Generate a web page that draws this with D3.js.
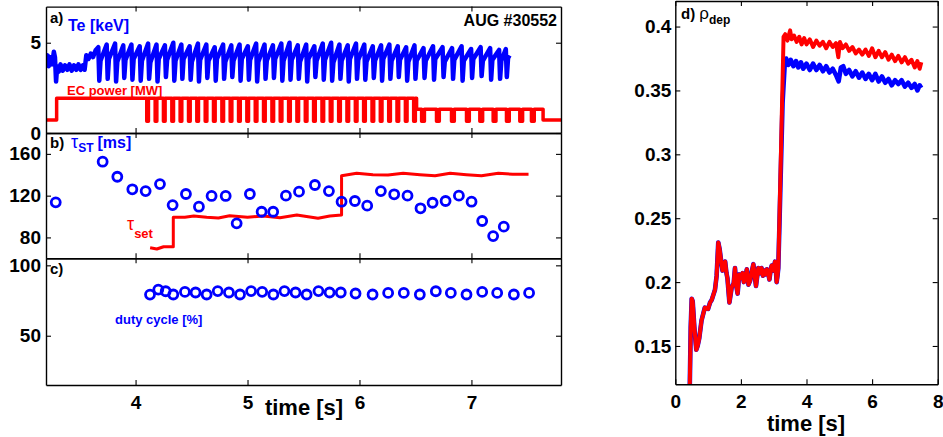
<!DOCTYPE html>
<html>
<head>
<meta charset="utf-8">
<script src="https://cdn.jsdelivr.net/npm/d3@7"></script>
<style>
  body { margin: 0; background: #fff; }
  text { font-family: "Liberation Sans", Arial, sans-serif; font-weight: bold; }
  .axis text { font-size: 19px; fill: #000; }
  .axis path.domain { stroke: #000; stroke-width: 1.4; }
  .axis line { stroke: #000; stroke-width: 1.1; }
</style>
</head>
<body>
<script>
// ---- a) Te trace: a short noisy start, then one sawtooth crash per cycle
let tePreT = [3.205, 3.215, 3.225, 3.24, 3.255, 3.27, 3.28, 3.29, 3.30, 3.315, 3.33, 3.35, 3.37, 3.39, 3.41, 3.43, 3.45, 3.47, 3.49, 3.51, 3.53, 3.545, 3.56, 3.58, 3.60, 3.62, 3.645];
let tePreV = [3.9, 4.3, 3.7, 4.2, 3.8, 4.5, 4.2, 2.85, 3.7, 3.4, 3.8, 3.45, 3.75, 3.5, 3.8, 3.45, 3.75, 3.5, 3.8, 3.5, 3.75, 3.5, 4.3, 4.1, 4.4, 4.2, 4.6];
let teCrash = [3.670, 3.745, 3.820, 3.893, 3.966, 4.040, 4.115, 4.190, 4.265, 4.340, 4.412, 4.486, 4.560, 4.635, 4.710, 4.785, 4.858, 4.932, 5.006, 5.080, 5.155, 5.230, 5.305, 5.378, 5.452, 5.527, 5.600, 5.675, 5.750, 5.824, 5.898, 5.972, 6.046, 6.122, 6.196, 6.270, 6.345, 6.420, 6.494, 6.575, 6.660, 6.745, 6.830, 6.915, 7.000, 7.085, 7.170, 7.250, 7.310];
let tePeak = [4.75, 4.9, 4.95, 4.85, 4.9, 4.8, 4.95, 4.9, 4.85, 5.0, 4.9, 4.8, 4.95, 4.9, 4.75, 4.9, 4.85, 4.9, 4.8, 4.95, 4.9, 4.85, 4.95, 5.0, 4.85, 4.9, 4.8, 4.95, 5.0, 4.9, 4.85, 4.95, 4.9, 4.8, 4.85, 4.9, 4.8, 4.75, 4.85, 4.7, 4.8, 4.75, 4.7, 4.8, 4.65, 4.75, 4.7, 4.6, 4.65];
let teDip = [2.9, 3.0, 2.85, 3.05, 2.95, 2.9, 3.0, 2.85, 3.1, 2.9, 3.0, 2.95, 2.85, 3.05, 2.9, 3.0, 3.1, 2.9, 2.95, 2.85, 3.0, 3.05, 2.9, 2.95, 3.0, 2.85, 3.1, 2.95, 2.9, 3.0, 2.85, 3.0, 2.95, 3.05, 2.9, 3.0, 3.1, 2.9, 3.0, 3.05, 2.95, 3.1, 3.0, 2.9, 3.05, 3.15, 2.95, 3.0, 3.1];
let teRec = [4.0, 4.1, 3.95, 4.05, 4.1, 4.0, 3.9, 4.1, 4.05, 4.0, 4.1, 3.95, 4.05, 4.0, 4.1, 3.95, 4.0, 4.1, 4.05, 3.95, 4.0, 4.1, 4.0, 4.05, 3.95, 4.1, 4.0, 4.05, 3.9, 4.0, 4.1, 4.05, 3.95, 4.0, 4.1, 4.0, 4.05, 3.95, 4.0, 4.0, 4.1, 3.95, 4.05, 4.0, 4.1, 4.0, 4.05, 4.0, 4.15];
let teEnd = [7.34, 4.3];

// ---- a) EC power [MW]
let ecPreT = [3.2, 3.295, 3.295, 4.10];
let ecPreV = [0.72, 0.72, 1.92, 1.92];
let ecOff1 = [4.100, 4.175, 4.249, 4.324, 4.398, 4.473, 4.547, 4.622, 4.696, 4.771, 4.845, 4.920, 4.994, 5.069, 5.143, 5.218, 5.292, 5.367, 5.441, 5.516, 5.590, 5.665, 5.739, 5.814, 5.888, 5.963, 6.037, 6.112, 6.186, 6.261, 6.335, 6.410, 6.484];
let ecOff2 = [6.555, 6.688, 6.822, 6.956, 7.075, 7.194, 7.313, 7.432, 7.536];
let ecHigh1 = 1.92, ecHigh2 = 1.31, ecLow = 0.65, ecBase = 0.72;
let ecOffLen1 = 0.015, ecOffLen2 = 0.025;
let ecStep = 6.51, ecStop = 7.64, ecLast = 7.8;

// ---- b) tau_ST [ms] and tau_set
let tauT = [3.287, 3.706, 3.837, 3.971, 4.090, 4.218, 4.331, 4.450, 4.566, 4.679, 4.805, 4.903, 5.021, 5.126, 5.229, 5.343, 5.460, 5.602, 5.727, 5.840, 5.959, 6.069, 6.191, 6.310, 6.429, 6.545, 6.653, 6.769, 6.888, 7.001, 7.096, 7.194, 7.289];
let tauV = [113.6, 152.5, 138.1, 126.1, 124.4, 131.1, 111.0, 121.6, 109.4, 119.7, 119.7, 93.5, 121.6, 104.6, 104.6, 120.0, 123.8, 130.2, 124.4, 114.2, 114.9, 110.4, 124.4, 121.3, 120.0, 107.9, 113.2, 114.9, 120.0, 114.2, 95.7, 81.3, 90.3];
let tsetT = [4.13, 4.19, 4.25, 4.337, 4.337, 4.44, 4.52, 4.635, 4.74, 4.84, 5.0, 5.14, 5.29, 5.44, 5.63, 5.735, 5.84, 5.84, 5.975, 6.12, 6.255, 6.39, 6.54, 6.675, 6.81, 6.955, 7.09, 7.24, 7.37, 7.51];
let tsetV = [70.1, 68.9, 71.1, 71.1, 99.3, 99.3, 100.5, 99.3, 98.6, 100.8, 99.3, 100.5, 98.8, 101.5, 98.3, 100.5, 101.5, 139.1, 141.4, 140.1, 139.8, 141.4, 140.1, 139.1, 141.4, 140.1, 139.1, 141.4, 140.5, 140.5];

// ---- c) duty cycle [%]
let dutyT = [4.129, 4.203, 4.269, 4.337, 4.441, 4.536, 4.635, 4.734, 4.834, 4.933, 5.032, 5.131, 5.231, 5.330, 5.429, 5.528, 5.634, 5.733, 5.833, 5.965, 6.117, 6.256, 6.396, 6.539, 6.682, 6.816, 6.956, 7.096, 7.230, 7.379, 7.515];
let dutyV = [79.2, 82.8, 81.6, 79.3, 81.1, 80.7, 79.3, 81.7, 80.7, 79.3, 81.7, 81.2, 79.3, 81.7, 80.7, 79.3, 81.7, 80.7, 80.7, 80.0, 79.3, 80.4, 80.4, 79.3, 81.6, 80.4, 79.3, 81.1, 80.4, 79.3, 80.4];

// ---- d) rho_dep, common start then two branches after the jump
let rhoEarlyT = [0.43, 0.47, 0.50, 0.53, 0.58, 0.64, 0.68, 0.73, 0.80, 0.90, 1.00, 1.06, 1.11, 1.16, 1.21, 1.26, 1.31, 1.35, 1.40, 1.44, 1.48, 1.52, 1.56, 1.59, 1.65, 1.72, 1.78, 1.82, 1.86, 1.90, 1.95, 2.00, 2.05, 2.09, 2.14, 2.18, 2.23, 2.28, 2.33, 2.38, 2.42, 2.46, 2.50, 2.53, 2.58, 2.63, 2.67, 2.71, 2.75, 2.79, 2.83, 2.87, 2.91, 2.94, 2.99, 3.04, 3.07, 3.09, 3.12, 3.14];
let rhoEarlyV = [0.10, 0.165, 0.187, 0.185, 0.165, 0.147, 0.150, 0.156, 0.170, 0.180, 0.179, 0.184, 0.186, 0.190, 0.194, 0.205, 0.231, 0.226, 0.216, 0.209, 0.214, 0.216, 0.207, 0.203, 0.184, 0.196, 0.199, 0.211, 0.197, 0.191, 0.206, 0.203, 0.207, 0.200, 0.204, 0.210, 0.198, 0.201, 0.208, 0.214, 0.205, 0.197, 0.205, 0.211, 0.207, 0.211, 0.205, 0.209, 0.206, 0.210, 0.207, 0.202, 0.210, 0.213, 0.209, 0.216, 0.208, 0.200, 0.206, 0.211];
let rhoRedT = [3.22, 3.30, 3.35, 3.42, 3.5, 3.55, 3.62, 3.7, 3.78, 3.85, 3.93, 4.0, 4.1, 4.2, 4.3, 4.4, 4.5, 4.6, 4.7, 4.8, 4.9, 4.97, 5.02, 5.1, 5.2, 5.3, 5.4, 5.5, 5.6, 5.7, 5.8, 5.9, 6.0, 6.1, 6.2, 6.3, 6.4, 6.5, 6.6, 6.7, 6.8, 6.9, 7.0, 7.1, 7.2, 7.3, 7.38, 7.45, 7.5];
let rhoRedV = [0.30, 0.392, 0.394, 0.389, 0.397, 0.390, 0.393, 0.388, 0.392, 0.386, 0.391, 0.386, 0.390, 0.384, 0.389, 0.385, 0.388, 0.383, 0.388, 0.384, 0.387, 0.376, 0.388, 0.383, 0.386, 0.381, 0.384, 0.379, 0.382, 0.378, 0.382, 0.377, 0.383, 0.376, 0.381, 0.376, 0.380, 0.374, 0.378, 0.373, 0.377, 0.372, 0.376, 0.371, 0.374, 0.368, 0.373, 0.367, 0.372];
let rhoBlueT = [3.18, 3.27, 3.34, 3.38, 3.45, 3.52, 3.6, 3.68, 3.75, 3.83, 3.9, 4.0, 4.1, 4.2, 4.3, 4.4, 4.5, 4.6, 4.7, 4.8, 4.9, 4.98, 5.05, 5.12, 5.2, 5.3, 5.4, 5.5, 5.6, 5.7, 5.8, 5.9, 6.0, 6.1, 6.2, 6.3, 6.4, 6.5, 6.6, 6.7, 6.8, 6.9, 7.0, 7.1, 7.2, 7.3, 7.38, 7.45, 7.5];
let rhoBlueV = [0.25, 0.34, 0.372, 0.375, 0.370, 0.374, 0.369, 0.373, 0.368, 0.372, 0.367, 0.371, 0.366, 0.371, 0.366, 0.370, 0.365, 0.369, 0.364, 0.367, 0.362, 0.357, 0.368, 0.369, 0.363, 0.366, 0.361, 0.365, 0.360, 0.364, 0.359, 0.363, 0.358, 0.363, 0.357, 0.361, 0.356, 0.359, 0.354, 0.358, 0.355, 0.358, 0.353, 0.356, 0.352, 0.355, 0.350, 0.354, 0.352];

// tick values
let timeTicksL = [4, 5, 6, 7];
let aTicks = [0, 5];
let bTicks = [80, 120, 160];
let cTicks = [50, 100];
let dTicksX = [0, 2, 4, 6, 8];
let dTicksY = [0.15, 0.2, 0.25, 0.3, 0.35, 0.4];

const blue = "#0000ff", red = "#ff0000";

let svg = d3.select("body").append("svg").attr("width", 943).attr("height", 437);

// scales (left column shares the time axis)
let xL = d3.scaleLinear().domain([3.2, 7.8]).range([46, 561]);
let yA = d3.scaleLinear().domain([0, 7]).range([133, 6.6]);
let yB = d3.scaleLinear().domain([60, 180]).range([258.3, 133]);
let yC = d3.scaleLinear().domain([15, 105]).range([385, 258.3]);
let xD = d3.scaleLinear().domain([0, 8]).range([675.3, 937.7]);
let yD = d3.scaleLinear().domain([0.12, 0.42]).range([384.3, 1]);

// frame with inward ticks on all four sides
function drawAxes(x, y, xTicks, yTicks, showX, pad, padX) {
  let [x0, x1] = x.range();
  let [yb, yt] = y.range();
  let inward = (a) => a.tickSizeInner(-5).tickSizeOuter(0);
  svg.append("g").attr("class", "axis").attr("transform", `translate(${x0},0)`)
    .call(inward(d3.axisLeft(y)).tickValues(yTicks).tickPadding(pad).tickFormat((d) => d));
  svg.append("g").attr("class", "axis").attr("transform", `translate(${x1},0)`)
    .call(inward(d3.axisRight(y)).tickValues(yTicks).tickFormat(""));
  svg.append("g").attr("class", "axis").attr("transform", `translate(0,${yt})`)
    .call(inward(d3.axisTop(x)).tickValues(xTicks).tickFormat(""));
  svg.append("g").attr("class", "axis").attr("transform", `translate(0,${yb})`)
    .call(inward(d3.axisBottom(x)).tickValues(xTicks).tickPadding(padX).tickFormat(showX ? (d) => d : ""));
}

function clip(id, x, y) {
  let [x0, x1] = x.range();
  let [yb, yt] = y.range();
  svg.append("clipPath").attr("id", id).append("rect")
    .attr("x", x0).attr("y", yt).attr("width", x1 - x0).attr("height", yb - yt);
}
clip("clipA", xL, yA);
clip("clipB", xL, yB);
clip("clipD", xD, yD);

function zip(ts, vs) {
  return ts.map((t, i) => [t, vs[i]]);
}

function drawLine(pts, x, y, color, width, clipId) {
  svg.append("path")
    .datum(pts)
    .attr("clip-path", `url(#${clipId})`)
    .attr("d", d3.line().x((d) => x(d[0])).y((d) => y(d[1])))
    .attr("fill", "none")
    .attr("stroke", color)
    .attr("stroke-width", width)
    .attr("stroke-linejoin", "round");
}

// ---- panel a
let tePts = zip(tePreT, tePreV);
teCrash.forEach((t, i) => {
  tePts.push([t - 0.003, tePeak[i]]);
  tePts.push([t + 0.006, teDip[i]]);
  tePts.push([t + 0.017, teRec[i]]);
});
tePts.push(teEnd);
drawLine(tePts, xL, yA, blue, 4.5, "clipA");

let ecPts = zip(ecPreT, ecPreV);
ecOff1.forEach((t) => {
  ecPts.push([t, ecHigh1], [t, ecLow], [t + ecOffLen1, ecLow], [t + ecOffLen1, ecHigh1]);
});
ecPts.push([ecStep, ecHigh1], [ecStep, ecHigh2]);
ecOff2.forEach((t) => {
  ecPts.push([t, ecHigh2], [t, ecLow], [t + ecOffLen2, ecLow], [t + ecOffLen2, ecHigh2]);
});
ecPts.push([ecStop, ecHigh2], [ecStop, ecBase], [ecLast, ecBase]);
drawLine(ecPts, xL, yA, red, 3.5, "clipA");

// ---- panel b
drawLine(zip(tsetT, tsetV), xL, yB, red, 3, "clipB");
svg.append("g").selectAll("circle")
  .data(zip(tauT, tauV))
  .enter()
  .append("circle")
  .attr("cx", (d) => xL(d[0]))
  .attr("cy", (d) => yB(d[1]))
  .attr("r", 4.5)
  .attr("fill", "none")
  .attr("stroke", blue)
  .attr("stroke-width", 2.8);

// ---- panel c
svg.append("g").selectAll("circle")
  .data(zip(dutyT, dutyV))
  .enter()
  .append("circle")
  .attr("cx", (d) => xL(d[0]))
  .attr("cy", (d) => yC(d[1]))
  .attr("r", 4.5)
  .attr("fill", "none")
  .attr("stroke", blue)
  .attr("stroke-width", 2.8);

// ---- panel d
drawLine(zip(rhoEarlyT, rhoEarlyV).concat(zip(rhoBlueT, rhoBlueV)), xD, yD, blue, 4.6, "clipD");
drawLine(zip(rhoEarlyT, rhoEarlyV).concat(zip(rhoRedT, rhoRedV)), xD, yD, red, 4, "clipD");

// axes / frames
drawAxes(xL, yA, timeTicksL, aTicks, false, 5, 11);
drawAxes(xL, yB, timeTicksL, bTicks, false, 5, 11);
drawAxes(xL, yC, timeTicksL, cTicks, true, 5, 11);
drawAxes(xD, yD, dTicksX, dTicksY, true, 4, 10);
svg.selectAll(".axis").attr("font-size", null).attr("font-family", null);

// ---- texts
function label(x, y, str, size, color, anchor) {
  return svg.append("text").attr("x", x).attr("y", y).attr("font-size", size)
    .attr("fill", color).attr("text-anchor", anchor || "start").text(str);
}
label(304, 415, "time [s]", 22, "#000", "middle");
label(806, 431, "time [s]", 22, "#000", "middle");

label(50, 23, "a)", 15, "#000");
label(68, 31, "Te [keV]", 16, blue);
label(557, 26, "AUG #30552", 16, "#000", "end");
label(67, 95, "EC power [MW]", 13, red);

label(50, 148, "b)", 15, "#000");
let tst = svg.append("text").attr("x", 71).attr("y", 148).attr("fill", blue);
tst.append("tspan").attr("font-size", 18).attr("font-weight", "normal").text("τ");
tst.append("tspan").attr("font-size", 12).attr("dy", 4).text("ST");
tst.append("tspan").attr("font-size", 16).attr("dy", -4).attr("dx", 4).text("[ms]");

let tse = svg.append("text").attr("x", 127).attr("y", 230).attr("fill", red);
tse.append("tspan").attr("font-size", 18).attr("font-weight", "normal").text("τ");
tse.append("tspan").attr("font-size", 13).attr("dy", 8).text("set");

label(50, 274, "c)", 15, "#000");
label(115, 324, "duty cycle [%]", 13, blue);

let rd = svg.append("text").attr("x", 681).attr("y", 19).attr("fill", "#000");
rd.append("tspan").attr("font-size", 15).text("d) ");
rd.append("tspan").attr("font-size", 17).attr("font-weight", "normal").text("ρ");
rd.append("tspan").attr("font-size", 12).attr("dy", 5).text("dep");
</script>
</body>
</html>
